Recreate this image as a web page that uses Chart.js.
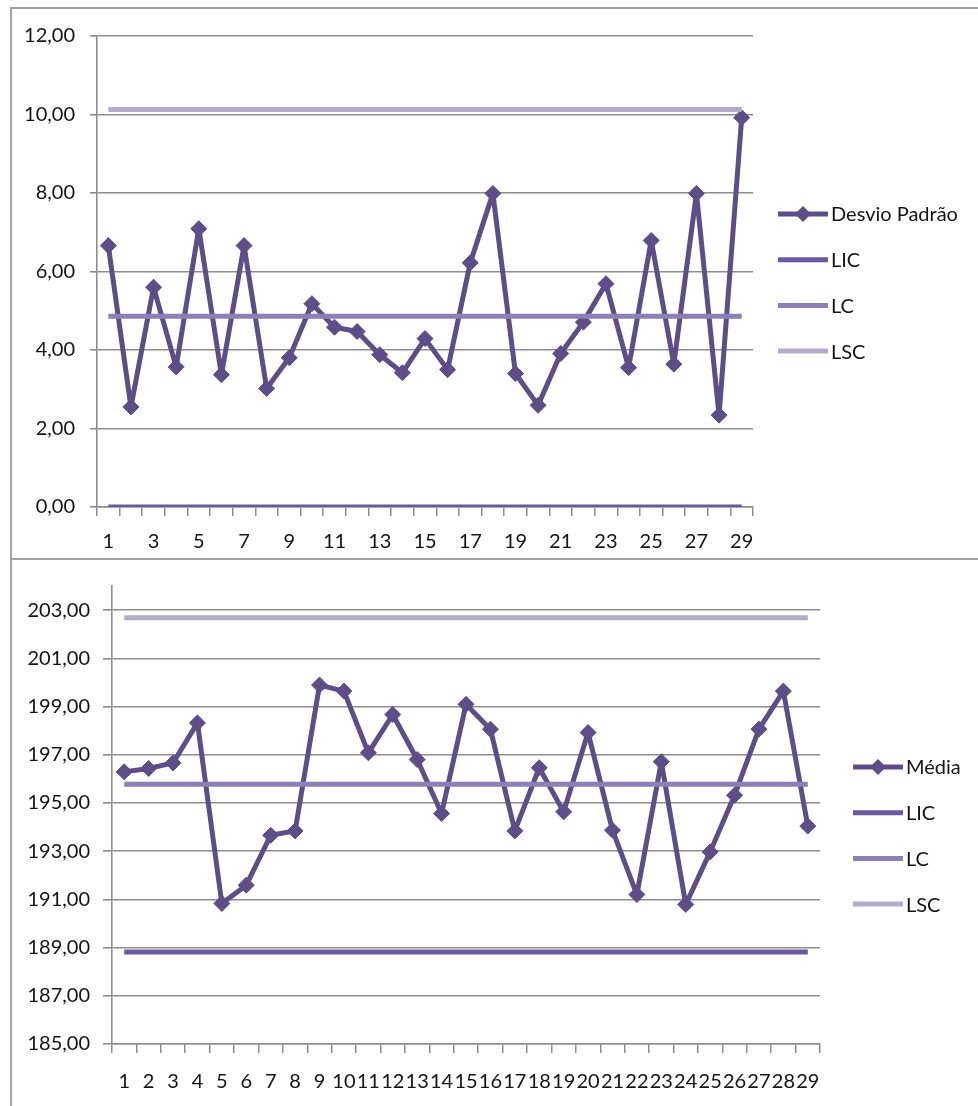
<!DOCTYPE html>
<html>
<head>
<meta charset="utf-8">
<script src="https://cdn.jsdelivr.net/npm/chart.js@4.4.1/dist/chart.umd.min.js"></script>
<style>
  html, body { margin: 0; padding: 0; background: #fff; }
  #page { position: relative; width: 978px; height: 1106px; overflow: hidden; background: #fff; }
  .panel { position: absolute; box-sizing: border-box; border-color: #a3a3a3; border-style: solid; }
  #panelTop { left: 10px; top: 7px; width: 1000px; height: 553px; border-width: 2px 0 2px 2px; }
  #panelBottom { left: 10px; top: 560px; width: 1000px; height: 560px; border-width: 0 0 0 2px; }
  canvas { position: absolute; }
  #chartTop { left: 12px; top: 9px; }
  #chartBottom { left: 12px; top: 561px; }
</style>
</head>
<body>
<div id="page">
  <div class="panel" id="panelTop"></div>
  <div class="panel" id="panelBottom"></div>
  <canvas id="chartTop" width="966" height="548"></canvas>
  <canvas id="chartBottom" width="966" height="545"></canvas>
</div>
<script>
// Samples 1..29
const categories = ['1','2','3','4','5','6','7','8','9','10','11','12','13','14','15',
  '16','17','18','19','20','21','22','23','24','25','26','27','28','29'];

// Standard deviation chart (S chart)
const desvioPadrao = [6.66, 2.55, 5.60, 3.57, 7.09, 3.37, 6.66, 3.02, 3.80, 5.18,
  4.58, 4.47, 3.88, 3.42, 4.29, 3.50, 6.22, 7.99, 3.40, 2.59,
  3.91, 4.71, 5.69, 3.55, 6.79, 3.64, 7.99, 2.34, 9.92];
const sLIC = 0.00;
const sLC = 4.86;
const sLSC = 10.13;
const sTicks = [0, 2, 4, 6, 8, 10, 12];

// Mean chart (X-bar chart)
const media = [196.29, 196.43, 196.66, 198.32, 190.83, 191.59, 193.66, 193.84, 199.89, 199.64,
  197.08, 198.67, 196.80, 194.56, 199.09, 198.06, 193.84, 196.46, 194.63, 197.92,
  193.87, 191.20, 196.71, 190.79, 192.97, 195.32, 198.06, 199.64, 194.04];
const mLIC = 188.82;
const mLC = 195.78;
const mLSC = 202.68;
const mTicks = [185, 187, 189, 191, 193, 195, 197, 199, 201, 203];

const COLORS = {
  series: '#5d4d89',
  lic: '#6a58a0',
  lc: '#8d80b6',
  lsc: '#b4accb',
  grid: '#8e8e8e',
  text: '#141414'
};
const FONT = 'Lato';

const fmt = v => Number(v).toFixed(2).replace('.', ',');
const constLine = v => categories.map(() => v);

// Legend drawn on the canvas: line sample (with diamond for the data series) + label
const sideLegend = {
  id: 'sideLegend',
  afterDraw(chart, args, opts) {
    const ctx = chart.ctx;
    ctx.save();
    ctx.font = opts.fontSize + 'px ' + FONT;
    ctx.textBaseline = 'middle';
    ctx.textAlign = 'left';
    chart.data.datasets.forEach((ds, i) => {
      const y = opts.y + i * opts.gap;
      ctx.strokeStyle = ds.borderColor;
      ctx.lineWidth = ds.borderWidth;
      ctx.lineCap = 'butt';
      ctx.beginPath();
      ctx.moveTo(opts.x, y);
      ctx.lineTo(opts.x + opts.len, y);
      ctx.stroke();
      if (ds.pointRadius > 0) {
        const cx = opts.x + opts.len / 2, r = ds.pointRadius;
        ctx.fillStyle = ds.pointBackgroundColor;
        ctx.beginPath();
        ctx.moveTo(cx - r, y); ctx.lineTo(cx, y - r); ctx.lineTo(cx + r, y); ctx.lineTo(cx, y + r);
        ctx.closePath();
        ctx.fill();
      }
      ctx.fillStyle = COLORS.text;
      ctx.fillText(ds.label, opts.x + opts.len + 3, y + 1);
    });
    ctx.restore();
  }
};

function limitDataset(label, data, color, order) {
  return {
    label, data, borderColor: color, backgroundColor: color,
    borderWidth: 5, pointRadius: 0, pointHoverRadius: 0, tension: 0, order, fill: false,
    borderCapStyle: 'butt'
  };
}

function buildChart(canvasId, cfg) {
  return new Chart(document.getElementById(canvasId), {
    type: 'line',
    data: {
      labels: categories,
      datasets: [
        {
          label: cfg.seriesLabel, data: cfg.values,
          borderColor: COLORS.series, backgroundColor: COLORS.series,
          borderWidth: 5, tension: 0, fill: false, order: 4,
          borderJoinStyle: 'round', borderCapStyle: 'round',
          pointStyle: 'rectRot', pointRadius: 8, pointHoverRadius: 8,
          pointBackgroundColor: COLORS.series, pointBorderColor: COLORS.series, pointBorderWidth: 1
        },
        limitDataset('LIC', constLine(cfg.lic), COLORS.lic, 3),
        limitDataset('LC', constLine(cfg.lc), COLORS.lc, 2),
        limitDataset('LSC', constLine(cfg.lsc), COLORS.lsc, 1)
      ]
    },
    options: {
      responsive: false,
      animation: false,
      devicePixelRatio: 1,
      layout: { padding: cfg.padding },
      plugins: {
        legend: { display: false },
        tooltip: { enabled: false },
        sideLegend: cfg.legend
      },
      scales: {
        x: {
          type: 'category',
          offset: true,
          grid: {
            offset: true, drawOnChartArea: false, drawTicks: true,
            tickLength: 9, color: COLORS.grid, lineWidth: 1.5
          },
          border: { display: true, color: COLORS.grid, width: 1.5 },
          ticks: {
            autoSkip: false, maxRotation: 0, minRotation: 0,
            padding: cfg.xPad, color: COLORS.text,
            font: { family: FONT, size: cfg.xFont },
            callback: (v, i) => (i % cfg.xEvery === 0 ? categories[i] : '')
          },
          afterFit: s => { s.height = cfg.xHeight; }
        },
        y: {
          min: cfg.yMin, max: cfg.yMax,
          afterBuildTicks: s => { s.ticks = cfg.yTicks.map(v => ({ value: v })); },
          grid: { color: COLORS.grid, lineWidth: 1.6, drawTicks: true, tickLength: cfg.yTickLen },
          border: { display: true, color: COLORS.grid, width: 1.6 },
          ticks: {
            padding: cfg.yPad, color: COLORS.text,
            font: { family: FONT, size: 20 },
            callback: v => fmt(v)
          },
          afterFit: s => { s.width = cfg.yWidth; }
        }
      }
    },
    plugins: [sideLegend]
  });
}

function drawAll() {
  buildChart('chartTop', {
    seriesLabel: 'Desvio Padrão', values: desvioPadrao,
    lic: sLIC, lc: sLC, lsc: sLSC,
    yMin: 0, yMax: 12, yTicks: sTicks,
    padding: { left: 0, top: 26, right: 225, bottom: 0 },
    yWidth: 85, yTickLen: 7, yPad: 15,
    xHeight: 50, xPad: 14, xFont: 20, xEvery: 2,
    legend: { x: 766, y: 205, gap: 45.7, len: 50, fontSize: 20 }
  });
  buildChart('chartBottom', {
    seriesLabel: 'Média', values: media,
    lic: mLIC, lc: mLC, lsc: mLSC,
    yMin: 185, yMax: 204, yTicks: mTicks,
    padding: { left: 0, top: 25, right: 158, bottom: 0 },
    yWidth: 100, yTickLen: 9, yPad: 13,
    xHeight: 62, xPad: 17, xFont: 20, xEvery: 1,
    legend: { x: 841, y: 206, gap: 45.7, len: 50, fontSize: 20 }
  });
}

if (document.fonts && document.fonts.load) {
  document.fonts.load('20px ' + FONT).then(drawAll, drawAll);
} else {
  drawAll();
}
</script>
</body>
</html>
